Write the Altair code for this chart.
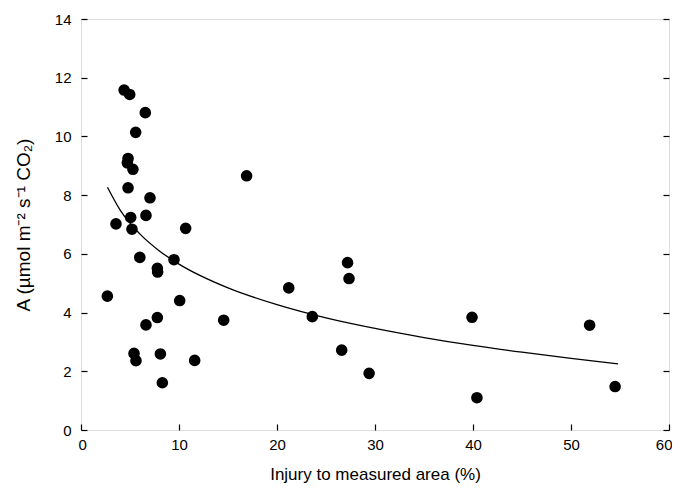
import altair as alt
import pandas as pd

# Scatter data
injury = [4.4, 4.97, 6.56, 5.58, 4.8, 4.73, 5.3, 16.9, 4.8, 7.04, 5.07, 6.63, 3.57, 5.2,
          10.68, 6.0, 9.49, 7.79, 7.82, 2.69, 10.07, 7.79, 6.63, 14.56, 5.41, 5.61, 8.1,
          11.6, 8.3, 21.2, 27.2, 27.35, 23.6, 26.6, 29.4, 39.9, 40.4, 51.9, 54.5]
photo_A = [11.58, 11.43, 10.81, 10.14, 9.25, 9.1, 8.88, 8.66, 8.25, 7.91, 7.24, 7.31, 7.02, 6.84,
           6.87, 5.88, 5.8, 5.51, 5.38, 4.56, 4.41, 3.83, 3.58, 3.74, 2.61, 2.36, 2.59,
           2.37, 1.61, 4.84, 5.70, 5.16, 3.86, 2.72, 1.93, 3.84, 1.10, 3.57, 1.48]

# Fitted curve
fit_x = [2.7, 4, 6, 8, 10, 15, 20, 25, 30, 35, 40, 45, 50, 54.8]
fit_y = [8.27, 7.49, 6.68, 6.10, 5.65, 4.84, 4.27, 3.82, 3.46, 3.15, 2.88, 2.65, 2.44, 2.25]

x_ticks = [0, 10, 20, 30, 40, 50, 60]
y_ticks = [0, 2, 4, 6, 8, 10, 12, 14]

pts = pd.DataFrame({"x": injury, "y": photo_A})
fit = pd.DataFrame({"x": fit_x, "y": fit_y})

FONT = "Liberation Sans"
xs = alt.Scale(domain=[0, 60], nice=False)
ys = alt.Scale(domain=[0, 14], nice=False)

main = alt.Chart(pts).mark_circle(size=135, color="black", opacity=1).encode(
    x=alt.X("x:Q", scale=xs, axis=alt.Axis(
        orient="bottom", values=x_ticks, ticks=False, domain=False, grid=False,
        labelFlush=True, labelFlushOffset=3, labelFontSize=15, labelPadding=7,
        labelFont=FONT, labelColor="black",
        title="Injury to measured area (%)", titleFontSize=17, titlePadding=14,
        titleFont=FONT, titleFontWeight="normal", titleColor="black")),
    y=alt.Y("y:Q", scale=ys, axis=alt.Axis(
        orient="left", values=y_ticks, ticks=False, domain=False, grid=False,
        labelFlush=False, labelFontSize=15, labelPadding=10, labelFont=FONT,
        labelColor="black",
        title="A  (µmol m⁻² s⁻¹ CO₂)", titleFontSize=19, titlePadding=21,
        titleFont=FONT, titleFontWeight="normal", titleColor="black")),
)

curve = alt.Chart(fit).mark_line(color="black", strokeWidth=1.3, interpolate="monotone").encode(
    x=alt.X("x:Q", scale=xs, title=None, axis=alt.Axis(
        values=x_ticks, orient="bottom", offset=-6, tickSize=6, tickColor="black",
        tickWidth=1.2, labels=False, domain=False, grid=False)),
    y=alt.Y("y:Q", scale=ys, title=None, axis=alt.Axis(
        values=y_ticks, orient="left", offset=-6, tickSize=6, tickColor="black",
        tickWidth=1.2, labels=False, domain=False, grid=False)),
)

right_ticks = alt.Chart(pts).mark_circle(opacity=0).encode(
    x=alt.X("x:Q", scale=xs, axis=None),
    y=alt.Y("y:Q", scale=ys, title=None, axis=alt.Axis(
        values=y_ticks, orient="right", offset=-6, tickSize=6, tickColor="black",
        tickWidth=1.2, labels=False, domain=False, grid=False)),
)

chart = alt.layer(right_ticks, curve, main).resolve_axis(
    x="independent", y="independent"
).properties(
    width=588, height=411,
    autosize=alt.AutoSizeParams(type="none"),
    padding={"left": 73, "top": 11, "right": 3, "bottom": 57},
).configure_view(stroke="black", strokeWidth=1.2).configure(background="white")

chart.save("out.html", embed_options={"renderer": "svg", "actions": False})
